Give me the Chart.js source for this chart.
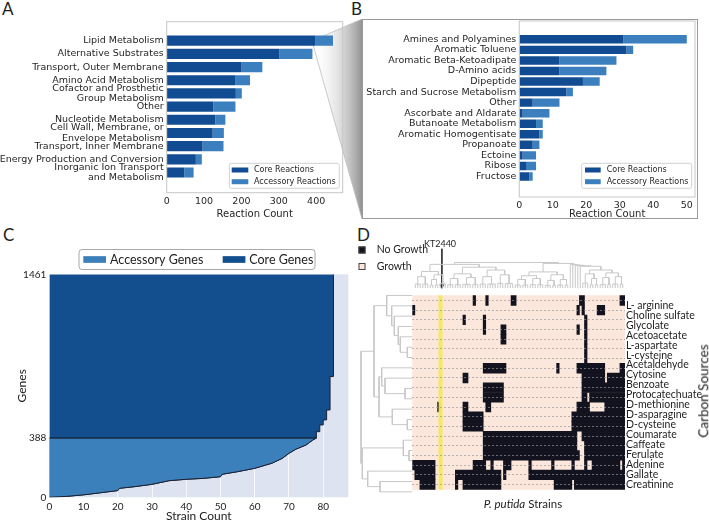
<!DOCTYPE html>
<html><head><meta charset="utf-8">
<script src="https://cdn.jsdelivr.net/npm/chart.js@4.4.0/dist/chart.umd.min.js"></script>
<style>
html,body{margin:0;padding:0;background:#fff;}
body{width:709px;height:523px;position:relative;overflow:hidden;font-family:Lato,sans-serif;}
canvas{position:absolute;}
.t{position:absolute;white-space:nowrap;color:#1e1e1e;line-height:1;}
</style></head><body>
<svg style="position:absolute;left:0;top:0" width="709" height="523">
  <defs><linearGradient id="fg" x1="312" y1="0" x2="362" y2="0" gradientUnits="userSpaceOnUse">
    <stop offset="0" stop-color="#ffffff" stop-opacity="0"/><stop offset="1" stop-color="#808080" stop-opacity="0.85"/></linearGradient></defs>
  <polygon points="312,41 362,19 362,219" fill="url(#fg)"/>
  <polyline points="362,19 312,41 362,219" fill="none" stroke="#bdbdbd" stroke-width="0.8"/>
</svg>
<div style="position:absolute;left:362px;top:19px;width:336px;height:200px;border:1px solid #9a9a9a;box-sizing:border-box;background:#fff"></div>
<div class="t" style="left:2px;top:0px;font-size:17px">A</div>
<div class="t" style="left:351px;top:0px;font-size:17px">B</div>
<div class="t" style="left:3px;top:226px;font-size:17px">C</div>
<div class="t" style="left:357px;top:226px;font-size:17px">D</div>
<canvas id="cA" width="350" height="220" style="left:0;top:0"></canvas>
<canvas id="cB" width="337" height="220" style="left:363px;top:0"></canvas>
<canvas id="cC" width="355" height="283" style="left:0;top:240px"></canvas>
<canvas id="cH" width="354" height="266" style="left:355px;top:236px"></canvas>
<canvas id="cTop" width="218" height="56" style="left:410px;top:236px"></canvas>
<canvas id="cLeft" width="62" height="214" style="left:352px;top:286px"></canvas>
<div class="t" style="left:440px;top:239px;font-size:9px;transform:translateX(-50%)">KT2440</div>
<div class="t" style="left:523px;top:498px;font-size:11.5px;transform:translateX(-50%)"><i>P. putida</i> Strains</div>
<div class="t" style="left:703.5px;top:390.5px;font-size:13.5px;transform:translate(-50%,-50%) rotate(-90deg)">Carbon Sources</div>
<script>
// ---------------- Panel A data ----------------
const aLabels = ['Lipid Metabolism','Alternative Substrates','Transport, Outer Membrane','Amino Acid Metabolism',
  ['Cofactor and Prosthetic','Group Metabolism'],'Other','Nucleotide Metabolism',
  ['Cell Wall, Membrane, or','Envelope Metabolism'],'Transport, Inner Membrane',
  'Energy Production and Conversion',['Inorganic Ion Transport','and Metabolism']];
const aCore      = [397,301,199,183,185,125,130,123,96,78,47];
const aAccessory = [48,89,57,40,16,59,27,30,56,16,25];
const aTicks     = [0,100,200,300,400];

// ---------------- Panel B data ----------------
const bLabels = ['Amines and Polyamines','Aromatic Toluene','Aromatic Beta-Ketoadipate','D-Amino acids','Dipeptide',
  'Starch and Sucrose Metabolism','Other','Ascorbate and Aldarate','Butanoate Metabolism','Aromatic Homogentisate',
  'Propanoate','Ectoine','Ribose','Fructose'];
const bCore      = [31,32,12,12,19,14,4,1,5,6,4,1,2,3];
const bAccessory = [19,2,17,14,5,2,8,8,2,1,2,4,3,1];
const bTicks     = [0,10,20,30,40,50];

// ---------------- Panel C data ----------------
const cStrainCount = [0,5,10,15,20,20.5,25,30,35,40,45,50,50.5,55,60,65,68,70,72,75,77,78,78,79,79,80,80,81,81,82,82,83,83];
const cGeneCount   = [0,6,16,30,44,59,70,85,109,118,124,135,151,168,190,223,255,288,315,343,376,388,430,430,474,474,507,507,572,572,791,791,1461];
const coreThreshold = 388;
const cYTicks = [0,388,1461];
const cXTicks = [0,10,20,30,40,50,60,70,80];

// ---------------- Panel D data ----------------
const carbonSources = ['L- arginine','Choline sulfate','Glycolate','Acetoacetate','L-aspartate','L-cysteine',
  'Acetaldehyde','Cytosine','Benzoate','Protocatechuate','D-methionine','D-asparagine','D-cysteine',
  'Coumarate','Caffeate','Ferulate','Adenine','Gallate','Creatinine'];
const nStrains = 84;
const kt2440Col = 11;
// per heatmap row: inclusive column runs with no growth
const noGrowthRuns = [
  [[24,24],[29,29],[39,40],[66,67],[82,83]],
  [[0,0],[65,65],[67,67],[73,75]],
  [[20,20],[28,28],[68,68]],
  [[28,28],[35,36],[65,65],[68,68]],
  [[35,36],[68,68]],
  [[68,68]],
  [[68,68]],
  [[28,36],[57,57],[65,75],[82,83]],
  [[20,21],[67,75],[77,83]],
  [[28,35],[67,83]],
  [[28,35],[67,68],[70,83]],
  [[10,10],[20,21],[29,30],[65,69],[76,83]],
  [[20,27],[63,83]],
  [[20,27],[63,83]],
  [[28,64],[67,83]],
  [[28,64],[68,83]],
  [[28,65],[68,83]],
  [[0,8],[24,28],[31,31],[36,38],[46,46],[55,55],[63,63],[68,68],[71,81],[83,83]],
  [[1,8],[17,34],[36,36],[46,83]],
  [[3,8],[17,17],[20,34],[56,62],[64,83]]
];
// row dendrogram: [childA, childB, height]; leaves 0..19, new nodes numbered from 20
const rowLinkage = [
  [5,6,5],[4,20,12],[3,21,14],[2,22,18],[1,23,20.6],[0,24,25.6],
  [9,10,7.3],[8,26,27.3],[7,27,30.6],[12,13,5],[11,29,20],[28,30,33.3],[25,31,38.3],
  [15,16,3.3],[14,33,9],[18,19,32.3],[17,35,44.6],[34,36,50],[32,37,51.3]
];
// column dendrogram: [start, split, end, height] over ordered strains
const colLinkage = [
  [0,40,84,27],
  [0,13,40,25],[0,6,13,17.5],[0,3,6,12],[6,10,13,14],[6,8,10,9],
  [13,26,40,22],[13,19,26,15],[13,16,19,10],[19,23,26,11],[26,33,40,19],[26,29,33,12],[33,36,40,14],
  [40,62,84,26],[40,52,62,17],[40,46,52,13],[40,43,46,9],[46,49,52,10],[52,57,62,14],[52,55,57,8],[57,60,62,9],
  [62,63,84,25],[63,64,84,24.5],[64,65,84,24],[65,66,84,23.5],[66,67,84,23],
  [67,74,84,19],[67,70,74,15],[70,72,74,10],[74,79,84,16],[74,77,79,11],[79,82,84,12]
];

// ---------------- styles ----------------
const MPL = "'DejaVu Sans'";
const TXT = '#262626';
const CORE = '#114c92', ACC = '#3b7fbe';
const C_CORE = '#134e8f', C_ACC = '#3c80bb', C_BG = '#dee3f1';
const PEACH = '#fbe7db', NOGROW = '#13131f', YELLOW = 'rgba(246,233,92,0.95)', DENDRO = '#c8c8c8';
Chart.defaults.font.family = 'Lato';
Chart.defaults.color = TXT;
Chart.defaults.plugins.legend.display = false;
Chart.defaults.plugins.tooltip.enabled = false;

function framePlugin(color){
  return {id:'frame', afterDatasetsDraw(chart){
    const {left,top,right,bottom} = chart.chartArea, ctx = chart.ctx;
    ctx.save(); ctx.strokeStyle = color; ctx.lineWidth = 1;
    ctx.strokeRect(left, top, right-left, bottom-top); ctx.restore();
  }};
}
function roundRect(ctx,x,y,w,h,r){
  ctx.beginPath(); ctx.moveTo(x+r,y); ctx.lineTo(x+w-r,y); ctx.quadraticCurveTo(x+w,y,x+w,y+r);
  ctx.lineTo(x+w,y+h-r); ctx.quadraticCurveTo(x+w,y+h,x+w-r,y+h); ctx.lineTo(x+r,y+h);
  ctx.quadraticCurveTo(x,y+h,x,y+h-r); ctx.lineTo(x,y+r); ctx.quadraticCurveTo(x,y,x+r,y); ctx.closePath();
}
// legend drawn from dataset labels/colours
function legendPlugin(spec){
  return {id:'boxLegend', afterDraw(chart){
    const ctx = chart.ctx, ds = chart.data.datasets;
    ctx.save();
    if (spec.box){
      roundRect(ctx, spec.box[0], spec.box[1], spec.box[2], spec.box[3], spec.radius||2);
      ctx.fillStyle = 'rgba(255,255,255,0.85)'; ctx.fill();
      ctx.strokeStyle = spec.boxStroke || '#d0d0d0'; ctx.lineWidth = 1; ctx.stroke();
    }
    ctx.font = spec.font; ctx.textBaseline = 'middle'; ctx.textAlign = 'left';
    spec.items.forEach(it => {
      const d = ds[it.ds];
      ctx.fillStyle = d.backgroundColor;
      ctx.fillRect(it.px, it.py - spec.ph/2, spec.pw, spec.ph);
      if (spec.patchStroke){ ctx.strokeStyle = spec.patchStroke; ctx.lineWidth = 1;
        ctx.strokeRect(it.px+0.5, it.py - spec.ph/2+0.5, spec.pw-1, spec.ph-1); }
      ctx.fillStyle = spec.color || TXT;
      ctx.fillText(d.label, it.tx, it.py);
    });
    ctx.restore();
  }};
}

function barPanel(id, labels, core, acc, ticks, cfg){
  const pts = arr => arr.map((v,i)=>({x:v, y:i}));
  return new Chart(document.getElementById(id), {
    type:'bar',
    data:{datasets:[
      {label:'Core Reactions', data:pts(core), backgroundColor:CORE, stack:'s'},
      {label:'Accessory Reactions', data:pts(acc), backgroundColor:ACC, stack:'s'}
    ]},
    options:{
      indexAxis:'y', responsive:false, animation:false, devicePixelRatio:1,
      layout:{padding:cfg.padding},
      datasets:{bar:{barPercentage:cfg.barPct, categoryPercentage:1, borderWidth:0}},
      scales:{
        x:{type:'linear', stacked:true, min:0, max:cfg.xMax,
           afterBuildTicks:s=>{s.ticks = ticks.map(v=>({value:v}));},
           afterFit:s=>{s.height = cfg.xH;},
           grid:{display:false, drawTicks:false}, border:{display:false},
           ticks:{font:{family:MPL, size:9.5}, color:TXT, padding:3, maxRotation:0, callback:v=>String(v)},
           title:{display:true, text:'Reaction Count', font:{family:MPL, size:10}, color:TXT, padding:0}},
        y:{type:'linear', stacked:true, reverse:true, min:cfg.yMin, max:cfg.yMax,
           afterBuildTicks:s=>{s.ticks = labels.map((_,i)=>({value:i}));},
           afterFit:s=>{s.width = cfg.yW;},
           grid:{display:false, drawTicks:false}, border:{display:false},
           ticks:{font:{family:MPL, size:9.5, lineHeight:1.08}, color:TXT, padding:3, autoSkip:false,
                  callback:v=>labels[v]}}
      }
    },
    plugins:[framePlugin('#c6c6c6'), legendPlugin(cfg.legend)]
  });
}

barPanel('cA', aLabels, aCore, aAccessory, aTicks, {
  padding:{top:21.7, right:7.3, left:0, bottom:0}, yW:166.7, xH:27.3, xMax:471, yMin:-0.85, yMax:10.94, barPct:0.77,
  legend:{box:[229.3,163.3,110,25], font:"8px 'DejaVu Sans'", pw:16.6, ph:5,
          items:[{ds:0, px:231.7, py:170, tx:254},{ds:1, px:231.7, py:181.7, tx:254}]}
});
barPanel('cB', bLabels, bCore, bAccessory, bTicks, {
  padding:{top:21, right:5, left:0, bottom:0}, yW:156.3, xH:23, xMax:52.45, yMin:-1.14, yMax:14.35, barPct:0.8,
  legend:{box:[218.7,163.3,110,25], font:"8px 'DejaVu Sans'", pw:15.7, ph:5,
          items:[{ds:0, px:222, py:170, tx:243.7},{ds:1, px:222, py:181.7, tx:243.7}]}
});

// ---------------- Panel C ----------------
(function(){
  const curve = cStrainCount.map((x,i)=>({x, y:cGeneCount[i]}));
  const cut = curve.findIndex(p => p.y >= coreThreshold);
  const accCurve = curve.slice(0, cut+1);
  const bg = {id:'bg', beforeDraw(chart){
    const {left,top,right,bottom} = chart.chartArea, ctx = chart.ctx;
    ctx.save(); ctx.fillStyle = C_BG; ctx.fillRect(left,top,right-left,bottom-top); ctx.restore();
  }};
  new Chart(document.getElementById('cC'), {
    type:'line',
    data:{datasets:[
      {label:'Accessory Genes', data:accCurve, backgroundColor:C_ACC, borderColor:'#1b2233', borderWidth:1,
       fill:{value:coreThreshold}, pointRadius:0, tension:0, order:1},
      {label:'Core Genes', data:curve, backgroundColor:C_CORE, borderColor:'#1b2233', borderWidth:1,
       fill:'end', pointRadius:0, tension:0, order:2},
      {label:'threshold', data:[{x:0,y:coreThreshold},{x:accCurve[accCurve.length-1].x, y:coreThreshold}],
       borderColor:'#111', borderWidth:1, pointRadius:0, fill:false, order:0}
    ]},
    options:{
      responsive:false, animation:false, devicePixelRatio:1,
      layout:{padding:{top:34.3, right:6.7, left:0, bottom:0}},
      scales:{
        x:{type:'linear', min:0, max:87.33,
           afterBuildTicks:s=>{s.ticks = cXTicks.map(v=>({value:v}));},
           afterFit:s=>{s.height = 25.7;},
           grid:{display:true, color:'rgba(255,255,255,0.75)', lineWidth:1, drawTicks:false}, border:{display:false},
           ticks:{font:{size:10}, color:'#222', padding:3, maxRotation:0, callback:v=>String(v)},
           title:{display:true, text:'Strain Count', font:{size:12}, color:'#222', padding:0}},
        y:{type:'linear', min:0, max:1461,
           afterBuildTicks:s=>{s.ticks = cYTicks.map(v=>({value:v}));},
           afterFit:s=>{s.width = 49.3;},
           grid:{display:false, drawTicks:false}, border:{display:false},
           ticks:{font:{size:10}, color:'#222', padding:3, callback:v=>String(v)},
           title:{display:true, text:'Genes', font:{size:12}, color:'#222', padding:{top:14.8, bottom:0}}}
      }
    },
    plugins:[bg, legendPlugin({box:[79,9.5,236,20], radius:3, boxStroke:'#a8a8a8', font:"12.5px Lato", pw:22.7, ph:6.7, color:'#222',
      items:[{ds:0, px:83.3, py:19.5, tx:110},{ds:1, px:222.7, py:19.5, tx:249.3}]})]
  });
})();

// ---------------- Panel D heatmap ----------------
(function(){
  const nRows = noGrowthRuns.length;
  const growth = noGrowthRuns.map((_,r)=>({x:[0,nStrains], y:r+0.5}));
  const nog = [];
  noGrowthRuns.forEach((runs,r)=>runs.forEach(([s,e])=>nog.push({x:[s,e+1], y:r+0.5})));
  const kt = noGrowthRuns.map((_,r)=>({x:[kt2440Col-0.5, kt2440Col+0.8], y:r+0.5}));
  new Chart(document.getElementById('cH'), {
    type:'bar',
    data:{datasets:[
      {label:'Growth', data:growth, backgroundColor:PEACH, order:3},
      {label:'No Growth', data:nog, backgroundColor:NOGROW, order:2},
      {label:'KT2440', data:kt, backgroundColor:YELLOW, order:1}
    ]},
    options:{
      indexAxis:'y', responsive:false, animation:false, devicePixelRatio:1,
      layout:{padding:{left:57.3, top:54.3, bottom:5, right:0}},
      datasets:{bar:{barPercentage:1, categoryPercentage:1, borderWidth:0, grouped:false}},
      scales:{
        x:{type:'linear', min:0, max:nStrains, display:false},
        y:{type:'linear', reverse:true, min:0, max:nRows, position:'left',
           afterBuildTicks:s=>{s.ticks = []; for(let i=1;i<nRows;i++) s.ticks.push({value:i});},
           afterFit:s=>{s.width = 0;},
           ticks:{display:false}, border:{display:false, dash:[2,2]},
           grid:{display:true, z:1, drawTicks:false, color:'rgba(150,150,150,0.85)', lineWidth:0.8}},
        yLab:{type:'linear', reverse:true, min:-0.98, max:18.5, position:'right',
           afterBuildTicks:s=>{s.ticks = carbonSources.map((_,i)=>({value:i}));},
           afterFit:s=>{s.width = 84;},
           grid:{display:false, drawTicks:false}, border:{display:false},
           ticks:{font:{size:10.5}, color:'#1e1e1e', padding:1, autoSkip:false, callback:v=>carbonSources[v]}}
      }
    },
    plugins:[
      legendPlugin({font:"10.5px Lato", pw:7, ph:7, patchStroke:'#444', color:'#1e1e1e',
        items:[{ds:1, px:3.5, py:14, tx:21.7},{ds:0, px:3.5, py:30.5, tx:21.7}]})
    ]
  });
})();

// ---------------- dendrograms ----------------
function segsToData(segs){
  const out = [];
  segs.forEach(s => { s.forEach(p => out.push({x:p[0], y:p[1]})); out.push({x:NaN, y:NaN}); });
  return out;
}
// row dendrogram (left)
(function(){
  const n = noGrowthRuns.length;
  const pos = [], hgt = [];
  for (let i=0;i<n;i++){ pos[i] = i+0.5; hgt[i] = 0; }
  const segs = [];
  rowLinkage.forEach(([a,b,h],k)=>{
    segs.push([[hgt[a],pos[a]],[h,pos[a]],[h,pos[b]],[hgt[b],pos[b]]]);
    pos[n+k] = (pos[a]+pos[b])/2; hgt[n+k] = h;
  });
  new Chart(document.getElementById('cLeft'), {
    type:'scatter',
    data:{datasets:[{data:segsToData(segs), showLine:true, borderColor:DENDRO, borderWidth:1, pointRadius:0, spanGaps:false}]},
    options:{responsive:false, animation:false, devicePixelRatio:1,
      layout:{padding:{left:5, right:1.7, top:4.3, bottom:3}},
      scales:{x:{type:'linear', min:0, max:55.3, reverse:true, display:false},
              y:{type:'linear', min:0, max:n, reverse:true, display:false}}}
  });
})();
// column dendrogram (top)
(function(){
  const map = new Map(colLinkage.map(s=>[s[0]+'-'+s[2], s]));
  const segs = [];
  function node(s, e, parentH){
    if (e - s === 1) return {p:s+0.5, h:0};
    const sp = map.get(s+'-'+e);
    if (!sp){
      const hc = parentH*0.35;
      for (let i=s;i<e;i++) segs.push([[i+0.5,0],[i+0.5,hc]]);
      segs.push([[s+0.5,hc],[e-0.5,hc]]);
      return {p:(s+e)/2, h:hc};
    }
    const L = node(sp[0], sp[1], sp[3]), R = node(sp[1], sp[2], sp[3]);
    segs.push([[L.p,L.h],[L.p,sp[3]],[R.p,sp[3]],[R.p,R.h]]);
    return {p:(L.p+R.p)/2, h:sp[3]};
  }
  node(0, nStrains, 27);
  const ax = kt2440Col + 0.15;
  new Chart(document.getElementById('cTop'), {
    type:'scatter',
    data:{datasets:[
      {data:segsToData(segs), showLine:true, borderColor:DENDRO, borderWidth:1, pointRadius:0, spanGaps:false},
      {data:[{x:ax, y:41.5},{x:ax, y:2.2}], showLine:true, borderColor:'#333', borderWidth:1,
       pointRadius:[0,3], pointStyle:'triangle', rotation:180, pointBackgroundColor:'#333', pointBorderWidth:0, clip:false}
    ]},
    options:{responsive:false, animation:false, devicePixelRatio:1,
      layout:{padding:{left:2.3, right:3, top:26, bottom:2.5}},
      scales:{x:{type:'linear', min:0, max:nStrains, display:false},
              y:{type:'linear', min:0, max:27.5, display:false}}}
  });
})();
</script>
</body></html>
